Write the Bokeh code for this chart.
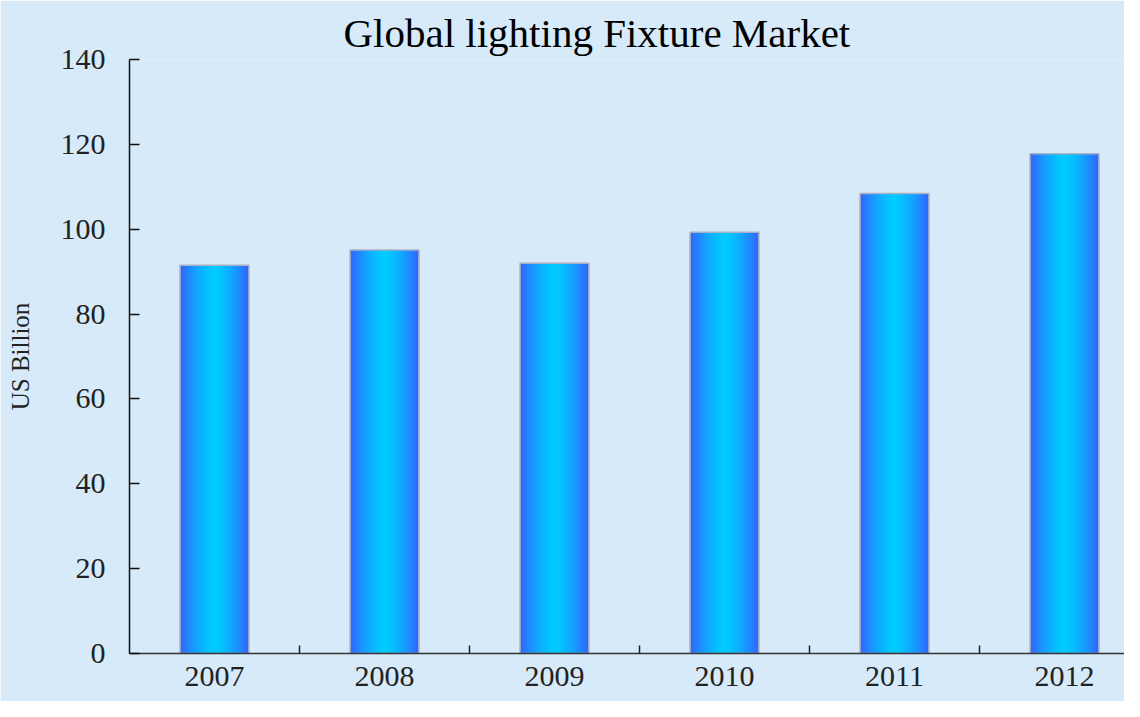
import numpy as np
from bokeh.plotting import figure
from bokeh.models import Range1d, FixedTicker, ColumnDataSource
from bokeh.embed import file_html
from bokeh.resources import INLINE

# ---- data ----
years = ["2007", "2008", "2009", "2010", "2011", "2012"]
values = [91.5, 95.1, 92.0, 99.3, 108.4, 117.8]
y_ticks = [0, 20, 40, 60, 80, 100, 120, 140]

BG = "#d6eaf9"
SERIF = "Liberation Serif"

xc = np.arange(len(years)) + 0.5
src = ColumnDataSource(dict(x=xc, top=values, year=years))

p = figure(width=1124, height=701, output_backend="svg", toolbar_location=None,
           x_range=Range1d(0, (1132 - 137) / 170.0), y_range=Range1d(0, 140),
           min_border_left=129, min_border_right=0, min_border_top=59,
           min_border_bottom=48)
p.background_fill_color = BG
p.border_fill_color = BG
p.outline_line_color = None
p.grid.grid_line_color = None

p.title.text = "Global lighting Fixture Market"
p.title.text_font = SERIF
p.title.text_font_size = "41px"
p.title.text_font_style = "normal"
p.title.text_color = "#000000"
p.title.text_line_height = 0.6
p.title.align = "left"
p.title.offset = 214
p.title.vertical_align = "top"
p.title.standoff = 4

# gradient bars: nested bars from wide (edge colour) to narrow (centre colour)
bw = 0.405
N = 24
c_edge = np.array([51, 102, 255])
c_mid = np.array([0, 204, 255])
for k in range(N):
    frac = 1.0 - k / N           # relative width of this layer
    w = frac ** 1.5
    c = (c_mid * (1 - w) + c_edge * w).astype(int)
    col = "#%02x%02x%02x" % tuple(c)
    p.vbar(x="x", top="top", bottom=0, width=bw * frac, source=src,
           fill_color=col, line_color=None)
p.vbar(x="x", top="top", bottom=0, width=bw, source=src, fill_color=None,
       line_color="#aab0c4", line_width=1.5)

# y axis
ya = p.yaxis[0]
ya.ticker = FixedTicker(ticks=y_ticks)
ya.axis_label = "US Billion"
ya.axis_label_text_font = SERIF
ya.axis_label_text_font_style = "normal"
ya.axis_label_text_font_size = "25px"
ya.axis_label_text_color = "#222222"
ya.axis_label_standoff = 24
ya.major_label_text_font = SERIF
ya.major_label_text_font_size = "30px"
ya.major_label_text_color = "#222222"
ya.major_label_standoff = 24
ya.major_tick_in = 10
ya.major_tick_out = 0
ya.minor_tick_line_color = None
ya.axis_line_color = "#111111"
ya.axis_line_width = 1.5
ya.major_tick_line_color = "#111111"
ya.major_tick_line_width = 1.5

# x axis
xa = p.xaxis[0]
xa.ticker = FixedTicker(ticks=list(xc), minor_ticks=list(np.arange(1, len(years))))
xa.major_label_overrides = {float(x): y for x, y in zip(xc, years)}
xa.major_label_text_font = SERIF
xa.major_label_text_font_size = "30px"
xa.major_label_text_color = "#222222"
xa.major_label_standoff = 13
xa.major_tick_in = 0
xa.major_tick_out = 0
xa.minor_tick_in = 8
xa.minor_tick_out = 0
xa.minor_tick_line_color = "#222222"
xa.minor_tick_line_width = 1.5
xa.axis_line_color = "#333333"
xa.axis_line_width = 1.5

open("out.html", "w").write(file_html(p, INLINE))
